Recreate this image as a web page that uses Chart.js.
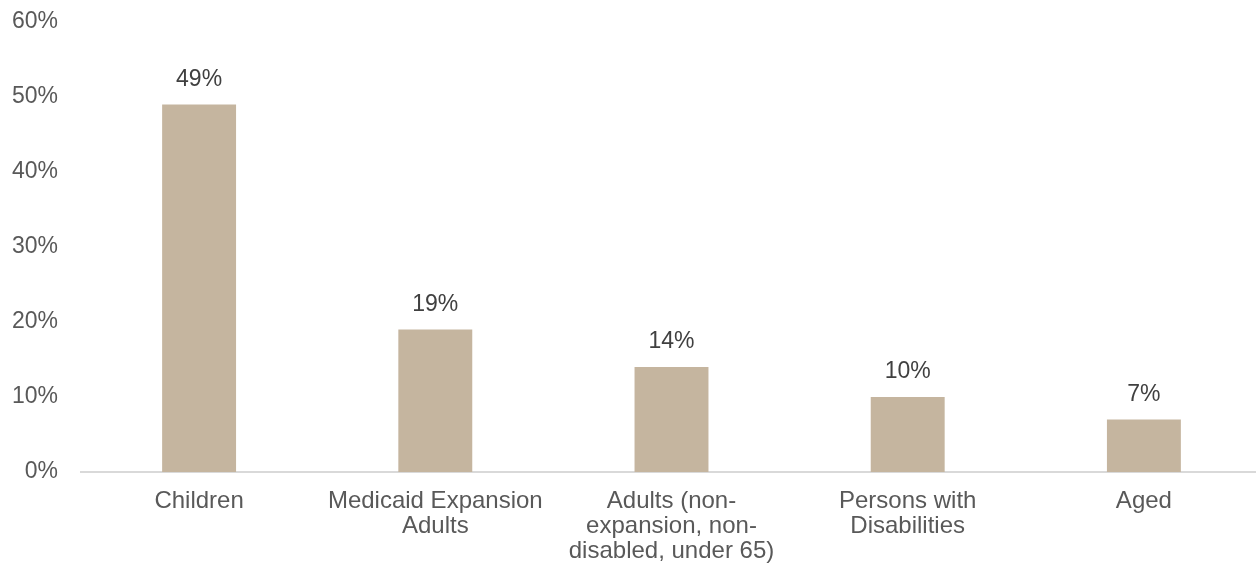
<!DOCTYPE html>
<html>
<head>
<meta charset="utf-8">
<script src="https://cdn.jsdelivr.net/npm/chart.js@4"></script>
<style>
  html, body { margin: 0; padding: 0; background: #fff; overflow: hidden; }
  #wrap { width: 1256px; height: 567px; overflow: hidden; }
</style>
</head>
<body>
<div id="wrap"><canvas id="popChart" width="1262" height="567"></canvas></div>
<script>
/* ============================
   DATA
   ============================ */

const categories = [
  "Children",
  ["Medicaid Expansion", "Adults"],
  ["Adults (non-", "expansion, non-", "disabled, under 65)"],
  ["Persons with", "Disabilities"],
  "Aged"
];

const shareValues = [49, 19, 14, 10, 7];

const yTicks = [0, 10, 20, 30, 40, 50, 60];

/* ============================
   VALUE LABELS ABOVE BARS
   ============================ */

const barLabels = {
  id: "barLabels",
  afterDatasetsDraw(chart) {
    const c = chart.ctx;
    const meta = chart.getDatasetMeta(0);
    c.save();
    c.font = "23px 'Liberation Sans', Arial, sans-serif";
    c.fillStyle = "#404040";
    c.textAlign = "center";
    c.textBaseline = "middle";
    meta.data.forEach((bar, i) => {
      c.fillText(shareValues[i] + "%", bar.x, bar.y - 25);
    });
    c.restore();
  }
};

/* ============================
   CHART SETUP
   ============================ */

const family = "'Liberation Sans', Arial, sans-serif";

new Chart(document.getElementById("popChart"), {
  type: "bar",
  data: {
    labels: categories,
    datasets: [{
      data: shareValues,
      backgroundColor: "#C5B59F",
      barPercentage: 0.313,
      categoryPercentage: 1
    }]
  },
  options: {
    responsive: false,
    animation: false,
    layout: { padding: { top: 22, left: 0, right: 0, bottom: 0 } },
    plugins: {
      legend: { display: false },
      tooltip: { enabled: false }
    },
    scales: {
      x: {
        grid: { display: false, drawTicks: false },
        border: { display: true, color: "#D9D9D9", width: 2 },
        ticks: {
          color: "#595959",
          font: { family: family, size: 24, lineHeight: "25px" },
          padding: 17,
          maxRotation: 0,
          autoSkip: false
        },
        afterFit(scale) { scale.height = 95; }
      },
      y: {
        min: 0,
        max: 60,
        afterBuildTicks(scale) {
          scale.ticks = yTicks.map(v => ({ value: v }));
        },
        grid: { display: false, drawTicks: false },
        border: { display: false },
        ticks: {
          color: "#595959",
          font: { family: family, size: 23 },
          padding: 23,
          callback: v => v + "%"
        },
        afterFit(scale) {
          scale.width = 81;
          scale.paddingTop = 0;
          scale.paddingBottom = 0;
        }
      }
    }
  },
  plugins: [barLabels]
});
</script>
</body>
</html>
